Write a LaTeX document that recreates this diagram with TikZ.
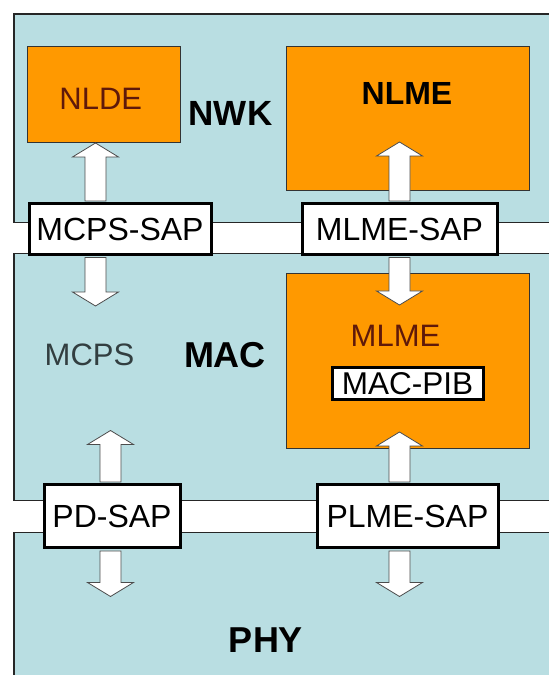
\documentclass[tikz,border=0pt]{standalone}
\usepackage{fontspec}
\setmainfont{Liberation Sans}
\usetikzlibrary{calc}
\definecolor{layerblue}{RGB}{185,222,226}
\definecolor{boxorange}{RGB}{255,153,0}
\definecolor{darkred}{RGB}{95,25,10}
\definecolor{graytext}{RGB}{50,62,64}
\newcommand\BlkArrow[2]{%
  \path ($(#2)!14pt!(#1)$) coordinate (hb);
  \draw[blkarrow] ([xshift=-10.5pt]#1) -- ([xshift=-10.5pt]hb) -- ([xshift=-23pt]hb) -- (#2)
    -- ([xshift=23pt]hb) -- ([xshift=10.5pt]hb) -- ([xshift=10.5pt]#1) -- cycle;}
\tikzset{
  layer/.style={draw=black!85, line width=1.2pt, fill=layerblue, anchor=south west, inner sep=0pt},
  orangebox/.style={draw=black!80, line width=1pt, fill=boxorange, anchor=south west, inner sep=0pt},
  sapbox/.style={draw=black, line width=3pt, fill=white, anchor=south west, inner sep=0pt,
    font=\fontsize{32}{32}\selectfont},
  plain/.style={anchor=base, inner sep=0pt, font=\fontsize{31}{31}\selectfont},
  bigbold/.style={anchor=base, inner sep=0pt, font=\fontsize{36}{36}\selectfont\bfseries},
  blkarrow/.style={draw=black!70, line width=0.8pt, fill=white, line join=miter},
}
\begin{document}
\begin{tikzpicture}[x=1pt,y=1pt]
\useasboundingbox (0,0) rectangle (549,675);
\clip (0,0) rectangle (549,675);
\fill[white] (0,0) rectangle (549,675);
% layers
\node[layer, minimum width=560pt, minimum height=208.3pt] (nwklayer) at (13.3,452) {};
\node[layer, minimum width=560pt, minimum height=247pt] (maclayer) at (13.3,174) {};
\node[layer, minimum width=560pt, minimum height=160pt] (phylayer) at (13.3,-18) {};
% orange boxes
\node[orangebox, minimum width=153pt, minimum height=96.4pt] (nlde) at (27,532) {};
\node[orangebox, minimum width=243pt, minimum height=144.9pt] (nlme) at (286,483.5) {};
\node[orangebox, minimum width=243pt, minimum height=175pt] (mlme) at (286,226) {};
\node[plain, text=darkred] (nldetext) at (100.75,565) {NLDE};
\node[plain, font=\fontsize{32}{32}\selectfont\bfseries] (nlmetext) at (407,570) {NLME};
\node[plain, text=darkred] (mlmetext) at (395.5,328) {MLME};
\node[sapbox, font=\fontsize{31.5}{31.5}\selectfont, minimum width=151pt, minimum height=32pt] (macpib) at (330.5,273.5) {MAC-PIB};
% SAP boxes
\node[sapbox, minimum width=182pt, minimum height=50.5pt] (mcpssap) at (27.5,419) {MCPS-SAP};
\node[sapbox, minimum width=195pt, minimum height=50.5pt] (mlmesap) at (300.5,419) {MLME-SAP};
\node[sapbox, minimum width=136pt, minimum height=63pt] (pdsap) at (42.5,125.5) {PD-SAP};
\node[sapbox, minimum width=181pt, minimum height=63pt] (plmesap) at (315.5,125.5) {PLME-SAP};
% arrow columns
\coordinate (colA) at (95.5,0);
\coordinate (colB) at (399.5,0);
\coordinate (colC) at (110.5,0);
\coordinate (b1) at ($(colA |- mcpssap.north)+(0,1.5)$);
\coordinate (t1) at (colA |- nlde.south);
\coordinate (b2) at ($(colB |- mlmesap.north)+(0,1.5)$);
\coordinate (t2) at ($(colB |- nlme.south)+(0,49.5)$);
\coordinate (b3) at ($(colA |- mcpssap.south)+(0,-1.5)$);
\coordinate (t3) at ($(b3)+(0,-48.5)$);
\coordinate (b4) at ($(colB |- mlmesap.south)+(0,-1.5)$);
\coordinate (t4) at ($(colB |- mlme.north)+(0,-32)$);
\coordinate (b5) at ($(colC |- pdsap.north)+(0,1.5)$);
\coordinate (t5) at ($(b5)+(0,51.5)$);
\coordinate (b6) at ($(colB |- plmesap.north)+(0,1.5)$);
\coordinate (t6) at ($(colB |- mlme.south)+(0,17)$);
\coordinate (b7) at ($(colC |- pdsap.south)+(0,-1.5)$);
\coordinate (t7) at ($(b7)+(0,-45.5)$);
\coordinate (b8) at ($(colB |- plmesap.south)+(0,-1.5)$);
\coordinate (t8) at ($(b8)+(0,-45.5)$);
\BlkArrow{b1}{t1}
\BlkArrow{b2}{t2}
\BlkArrow{b3}{t3}
\BlkArrow{b4}{t4}
\BlkArrow{b5}{t5}
\BlkArrow{b6}{t6}
\BlkArrow{b7}{t7}
\BlkArrow{b8}{t8}
% labels
\node[bigbold, font=\fontsize{35}{35}\selectfont\bfseries] (nwk) at (230.5,549) {NWK};
\node[bigbold] (mac) at (225,307) {MAC};
\node[bigbold] (phy) at (266,23) {PHY};
\node[plain, text=graytext] (mcps) at (89.5,309) {MCPS};
\end{tikzpicture}
\end{document}
